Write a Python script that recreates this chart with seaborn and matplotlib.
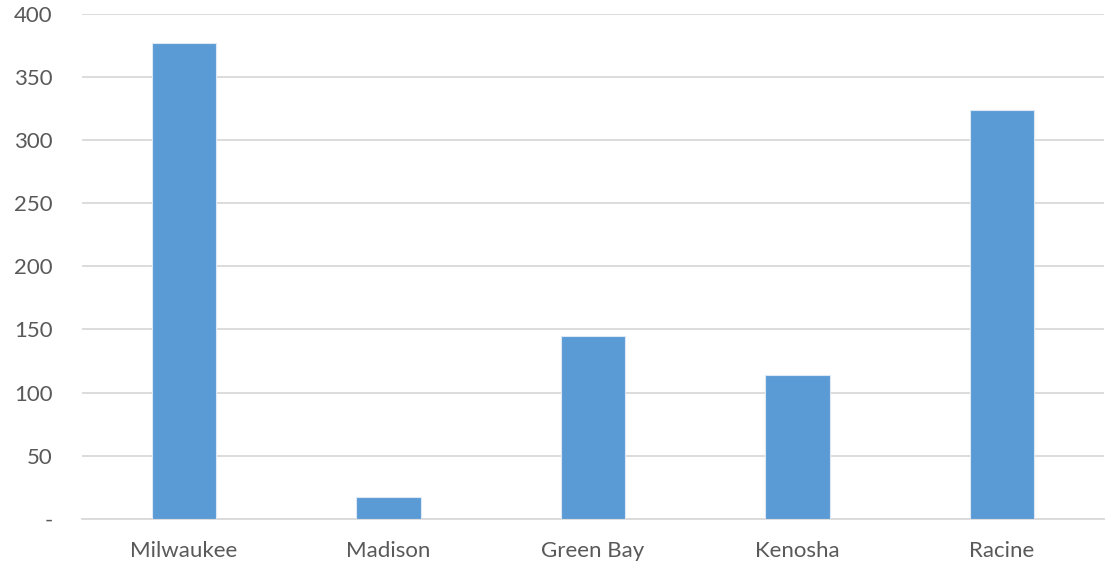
import matplotlib
matplotlib.use("Agg")
import matplotlib.pyplot as plt
import seaborn as sns
import pandas as pd

cities = ["Milwaukee", "Madison", "Green Bay", "Kenosha", "Racine"]
values = [377, 17, 145, 114, 324]
y_ticks = [0, 50, 100, 150, 200, 250, 300, 350, 400]
y_labels = ["-", "50", "100", "150", "200", "250", "300", "350", "400"]

sns.set_theme(style="white")
plt.rcParams["font.family"] = ["Lato", "DejaVu Sans"]

df = pd.DataFrame({"city": cities, "value": values})

fig = plt.figure(figsize=(11.17, 5.63), dpi=100)
ax = fig.add_axes([0.0731, 0.0787, 0.9153, 0.8964])

sns.barplot(data=df, x="city", y="value", color="#5B9BD5", saturation=1,
            width=0.315, edgecolor="#DCE8F5", linewidth=0.8, ax=ax, zorder=3)

ax.set_ylim(0, 400)
ax.set_xlim(-0.5, len(cities) - 0.5)
ax.set_yticks(y_ticks)
ax.set_yticklabels(y_labels)
ax.yaxis.grid(True, color="#D9D9D9", linewidth=1.3, zorder=0)
ax.set_axisbelow(True)
for side in ["top", "right", "left"]:
    ax.spines[side].set_visible(False)
ax.spines["bottom"].set_color("#D9D9D9")
ax.spines["bottom"].set_linewidth(1.3)
ax.tick_params(axis="both", length=0, labelsize=16, colors="#595959")
ax.tick_params(axis="y", pad=21)
ax.tick_params(axis="x", pad=16)
ax.set_xlabel("")
ax.set_ylabel("")

fig.savefig("out.png", dpi=100)
